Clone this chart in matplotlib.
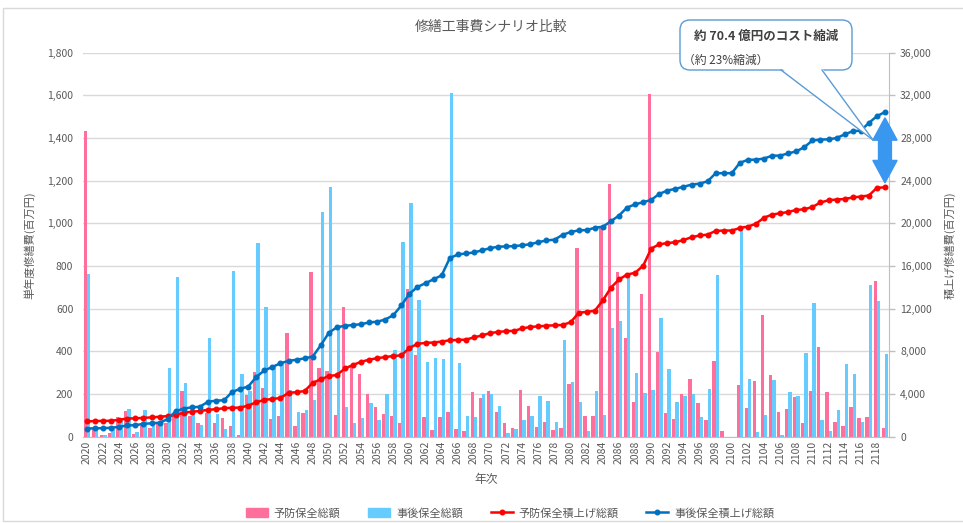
import numpy as np
import matplotlib
matplotlib.use("Agg")
import matplotlib.pyplot as plt
from matplotlib.patches import FancyBboxPatch, Polygon, Patch, Rectangle
from matplotlib.lines import Line2D
from matplotlib.transforms import IdentityTransform
from matplotlib.ticker import FuncFormatter

plt.rcParams['font.family'] = ['Noto Sans CJK JP', 'DejaVu Sans']

years = list(range(2020, 2120))

# 予防保全総額 (単年度, 百万円)
yobou = [1435, 36, 10, 15, 91, 119, 13, 50, 41, 60,
         64, 99, 215, 96, 63, 111, 63, 86, 49, 9,
         197, 304, 227, 83, 96, 487, 52, 110, 774, 321,
         310, 102, 608, 330, 293, 200, 141, 106, 99, 63,
         693, 383, 94, 31, 94, 114, 36, 28, 208, 183,
         216, 117, 66, 39, 219, 144, 47, 70, 31, 39,
         247, 884, 97, 97, 978, 1186, 772, 462, 161, 668,
         1607, 399, 113, 83, 200, 269, 160, 78, 357, 28,
         0, 243, 133, 263, 571, 290, 117, 128, 188, 63,
         216, 419, 208, 70, 52, 141, 86, 94, 728, 42]

# 事後保全総額 (単年度, 百万円)
jigo = [762, 30, 10, 35, 88, 130, 24, 125, 50, 63,
        323, 749, 254, 110, 56, 464, 107, 36, 777, 292,
        212, 906, 608, 326, 350, 219, 114, 125, 172, 1055,
        1172, 515, 140, 66, 86, 156, 78, 200, 407, 913,
        1094, 642, 352, 368, 365, 1612, 344, 97, 91, 200,
        200, 146, 19, 34, 78, 97, 191, 167, 70, 454,
        258, 161, 27, 214, 102, 509, 540, 748, 297, 203,
        219, 556, 318, 161, 191, 200, 94, 222, 759, 0,
        0, 978, 271, 23, 102, 266, 8, 208, 191, 394,
        626, 78, 27, 125, 341, 294, 67, 709, 637, 388]

# 予防保全積上げ総額 (百万円)
yobou_sum = [1435, 1471, 1481, 1496, 1587, 1706, 1719, 1769, 1810, 1870,
             1934, 2033, 2248, 2344, 2407, 2518, 2581, 2667, 2716, 2725,
             2922, 3226, 3453, 3536, 3632, 4119, 4171, 4281, 5055, 5376,
             5686, 5788, 6396, 6726, 7019, 7219, 7360, 7466, 7565, 7628,
             8321, 8704, 8798, 8829, 8923, 9037, 9073, 9101, 9309, 9492,
             9708, 9825, 9891, 9930, 10149, 10293, 10340, 10410, 10441, 10480,
             10727, 11611, 11708, 11805, 12783, 13969, 14741, 15203, 15364, 16032,
             17639, 18038, 18151, 18234, 18434, 18703, 18863, 18941, 19298, 19326,
             19326, 19569, 19702, 19965, 20536, 20826, 20943, 21071, 21259, 21322,
             21538, 21957, 22165, 22235, 22287, 22428, 22514, 22608, 23336, 23378]

# 事後保全積上げ総額 (百万円)
jigo_sum = [762, 792, 802, 837, 925, 1055, 1079, 1204, 1254, 1317,
            1640, 2389, 2643, 2753, 2809, 3273, 3380, 3416, 4193, 4485,
            4697, 5603, 6211, 6537, 6887, 7106, 7220, 7345, 7517, 8572,
            9744, 10259, 10399, 10465, 10551, 10707, 10785, 10985, 11392, 12305,
            13399, 14041, 14393, 14761, 15126, 16738, 17082, 17179, 17270, 17470,
            17670, 17816, 17835, 17869, 17947, 18044, 18235, 18402, 18472, 18926,
            19184, 19345, 19372, 19586, 19688, 20197, 20737, 21485, 21782, 21985,
            22204, 22760, 23078, 23239, 23430, 23630, 23724, 23946, 24705, 24705,
            24705, 25683, 25954, 25977, 26079, 26345, 26353, 26561, 26752, 27146,
            27772, 27850, 27877, 28002, 28343, 28637, 28704, 29413, 30050, 30438]

GRAY = '#595959'
PINK = '#FF6F9C'
LBLUE = '#66CCFF'
RED = '#FF0000'
DBLUE = '#0070C0'

fig = plt.figure(figsize=(9.63, 5.23), dpi=100)
ax = fig.add_axes([83 / 963, 1 - 436.7 / 523, (889 - 83) / 963, (436.7 - 52.7) / 523])
ax2 = ax.twinx()

x = np.arange(len(years))
w = 0.42
ax.bar(x - w / 2, yobou, w, color=PINK, zorder=2)
ax.bar(x + w / 2, jigo, w, color=LBLUE, zorder=2)

ax2.plot(x, yobou_sum, color=RED, lw=1.8, marker='o', ms=3.3)
ax2.plot(x, jigo_sum, color=DBLUE, lw=1.8, marker='o', ms=3.3)

ax.set_xlim(-0.5, len(years) - 0.5)
ax.set_ylim(0, 1800)
ax.set_yticks(np.arange(0, 1801, 200))
ax2.set_ylim(0, 36000)
ax2.set_yticks(np.arange(0, 36001, 4000))
fmt = FuncFormatter(lambda v, p: f'{int(v):,}')
ax.yaxis.set_major_formatter(fmt)
ax2.yaxis.set_major_formatter(fmt)

ax.set_axisbelow(True)
ax.grid(axis='y', color='#D9D9D9', lw=1, zorder=0)

ax.set_xticks(x[::2])
ax.set_xticklabels([str(y) for y in years[::2]], rotation=90)

for s in ['left', 'top', 'right']:
    ax.spines[s].set_visible(False)
ax.spines['bottom'].set_color('#BFBFBF')
for s in ['left', 'top', 'bottom']:
    ax2.spines[s].set_visible(False)
ax2.spines['right'].set_color('#BFBFBF')

ax.tick_params(axis='y', length=0, pad=7, labelsize=7.5, labelcolor=GRAY)
ax.tick_params(axis='x', length=0, pad=3, labelsize=7.5, labelcolor=GRAY)
ax2.tick_params(axis='y', length=4, width=1, color='#BFBFBF', pad=4, labelsize=7.5, labelcolor=GRAY)

ax.set_xlabel('年次', fontsize=8.5, color=GRAY, labelpad=6)

fig.text(491 / 963, 1 - 27 / 523, '修繕工事費シナリオ比較', ha='center', va='center',
         fontsize=10, color=GRAY)
fig.text(30 / 963, 1 - 245 / 523, '単年度修繕費(百万円)', rotation=90, ha='center',
         va='center', fontsize=8, color=GRAY)
fig.text(950 / 963, 1 - 245 / 523, '積上げ修繕費(百万円)', rotation=90, ha='center',
         va='center', fontsize=8, color=GRAY)

handles = [Patch(color=PINK), Patch(color=LBLUE),
           Line2D([], [], color=RED, lw=1.8, marker='o', ms=3.3),
           Line2D([], [], color=DBLUE, lw=1.8, marker='o', ms=3.3)]
labels = ['予防保全総額', '事後保全総額', '予防保全積上げ総額', '事後保全積上げ総額']
leg = fig.legend(handles, labels, ncol=4, loc='center', bbox_to_anchor=(510 / 963, 1 - 513 / 523),
                 frameon=False, fontsize=8, handlelength=2.0, handleheight=0.8,
                 columnspacing=2.5, handletextpad=0.5)
for t in leg.get_texts():
    t.set_color(GRAY)

# double-headed arrow between the cumulative totals
ax2.arrow(99, 26850, 0, 3050, width=1.6, head_width=3.0, head_length=2100,
          length_includes_head=True, color='#3A97F0', clip_on=False, zorder=5)
ax2.arrow(99, 26850, 0, -3050, width=1.6, head_width=3.0, head_length=2100,
          length_includes_head=True, color='#3A97F0', clip_on=False, zorder=5)

# callout
px = IdentityTransform()
CE = '#5B9BD5'
fig.add_artist(Rectangle((3, 2), 970, 513, transform=px, fill=False, ec='#D9D9D9', lw=1))
fig.add_artist(FancyBboxPatch((680, 453), 172, 50, boxstyle='round,pad=0,rounding_size=10',
                              transform=px, fc='white', ec=CE, lw=1, zorder=10))
fig.add_artist(Polygon([(781, 455), (822, 455), (873, 383)], closed=True, transform=px,
                       fc='white', ec='none', zorder=11))
fig.add_artist(Line2D([781, 873], [453, 383], transform=px, color=CE, lw=1, zorder=12))
fig.add_artist(Line2D([822, 873], [453, 383], transform=px, color=CE, lw=1, zorder=12))
fig.text(766 / 963, 487 / 523, '約 70.4 億円のコスト縮減', ha='center', va='center',
         fontsize=9, fontweight='bold', color='#404040', zorder=13)
fig.text(683 / 963, 463 / 523, '（約 23%縮減）', ha='left', va='center',
         fontsize=8.5, color='#404040', zorder=13)

fig.savefig('out.png', dpi=100)
